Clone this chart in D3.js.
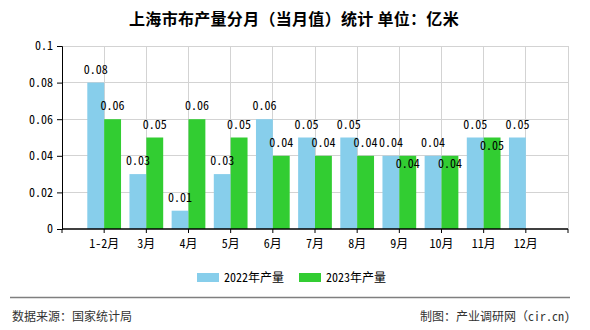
<!DOCTYPE html>
<html><head><meta charset="utf-8">
<script src="https://cdn.jsdelivr.net/npm/d3@7"></script>
<style>
html,body{margin:0;padding:0;background:#fff;}
svg{display:block;}
</style></head>
<body>
<script>
const title = "上海市布产量分月（当月值）统计 单位：亿米";
const categories = ["1-2月","3月","4月","5月","6月","7月","8月","9月","10月","11月","12月"];
const series2022 = [0.08,0.03,0.01,0.03,0.06,0.05,0.05,0.04,0.04,0.05,0.05];
const series2023 = [0.06,0.05,0.06,0.05,0.04,0.04,0.04,0.04,0.04,0.05,null];
const seriesNames = ["2022年产量","2023年产量"];
const yTicks = [0,0.02,0.04,0.06,0.08,0.1];
const yTickLabels = ["0","0.02","0.04","0.06","0.08","0.1"];
const sourceText = "数据来源：国家统计局";
const creditText = "制图：产业调研网（cir.cn)";

(function(){
const W = 590, H = 330;
const colors = ["#87CEEB","#32CD32"];
const monoFont = "'Noto Sans Mono CJK SC','DejaVu Sans Mono','Noto Sans CJK SC',monospace";
const sansFont = "'Noto Sans CJK SC','Noto Sans',sans-serif";

const svg = d3.select("body").append("svg").attr("width",W).attr("height",H);

const pl = 62, pr = 568, pt = 46, pb = 229;
const x = d3.scalePoint().domain(categories).range([pl,pr]).padding(1);
const y = d3.scaleLinear().domain([0,0.1]).range([pb,pt]);
const step = x.step();
const bw = step*0.4;

// title
svg.append("text").attr("x",294).attr("y",25).attr("text-anchor","middle")
  .style("font-family",sansFont).style("font-size","16px").style("font-weight","bold")
  .style("letter-spacing","0.3px")
  .attr("fill","#000").text(title);

// grid
const g = svg.append("g");
const vx = [pl, ...categories.map(c=>x(c)), pr];
g.selectAll("line.vg").data(vx).enter().append("line")
  .attr("x1",d=>d).attr("x2",d=>d).attr("y1",pt).attr("y2",pb)
  .attr("stroke","#d3d3d3").attr("stroke-width",1).attr("shape-rendering","crispEdges");
g.selectAll("line.hg").data(yTicks.filter(t=>t>0)).enter().append("line")
  .attr("x1",pl).attr("x2",pr).attr("y1",d=>y(d)).attr("y2",d=>y(d))
  .attr("stroke","#d3d3d3").attr("stroke-width",1).attr("shape-rendering","crispEdges");

// bars
const bars = svg.append("g");
categories.forEach((c,i)=>{
  const v1 = series2022[i], v2 = series2023[i];
  if (v1!=null) bars.append("rect").attr("x",x(c)-bw).attr("y",y(v1)).attr("width",bw).attr("height",y(0)-y(v1)).attr("fill",colors[0]);
  if (v2!=null) bars.append("rect").attr("x",x(c)).attr("y",y(v2)).attr("width",bw).attr("height",y(0)-y(v2)).attr("fill",colors[1]);
});

// axes
const yAxis = d3.axisLeft(y).tickValues(yTicks).tickFormat((d,i)=>yTickLabels[i]).tickSize(5).tickPadding(4);
const ya = svg.append("g").attr("transform",`translate(${pl},0)`).call(yAxis);
ya.select(".domain").attr("stroke","#000");
ya.selectAll(".tick line").attr("stroke","#000");
ya.selectAll("text").style("font-family",monoFont).style("font-size","12px").attr("fill","#000");

const xa = svg.append("g").attr("transform",`translate(0,${pb})`);
xa.append("line").attr("x1",pl).attr("x2",pr).attr("y1",0).attr("y2",0).attr("stroke","#000").attr("stroke-width",1.5);
xa.selectAll("line.t").data(vx).enter().append("line")
  .attr("x1",d=>d).attr("x2",d=>d).attr("y1",0).attr("y2",4).attr("stroke","#000");
xa.selectAll("text").data(categories).enter().append("text")
  .attr("x",d=>x(d)).attr("y",19).attr("text-anchor","middle")
  .style("font-family",monoFont).style("font-size","12px").attr("fill","#000").text(d=>d);

// data labels
const lab = svg.append("g").style("font-family",monoFont).style("font-size","12px").attr("fill","#000").attr("text-anchor","middle");
categories.forEach((c,i)=>{
  const v1 = series2022[i], v2 = series2023[i];
  if (v1!=null) lab.append("text").attr("x",x(c)-bw/2).attr("y",y(v1)-9).text(String(v1));
  if (v2!=null) {
    const collide = v1!=null && Math.abs(v1-v2)<0.005;
    lab.append("text").attr("x",x(c)+bw/2).attr("y",collide ? y(v2)+12 : y(v2)-9).text(String(v2));
  }
});

// legend
const lg = svg.append("g");
const lx = [197, 299];
seriesNames.forEach((n,i)=>{
  lg.append("rect").attr("x",lx[i]).attr("y",273).attr("width",22).attr("height",9).attr("fill",colors[i]);
  lg.append("text").attr("x",lx[i]+27).attr("y",282).style("font-family",monoFont).style("font-size","12px").attr("fill","#000").text(n);
});

// footer
svg.append("line").attr("x1",10).attr("x2",570).attr("y1",297.5).attr("y2",297.5).attr("stroke","#7f7f7f").attr("stroke-width",1.5);
svg.append("text").attr("x",12).attr("y",321).style("font-family",sansFont).style("font-size","12px").attr("fill","#333").text(sourceText);
svg.append("text").attr("x",570).attr("y",321).attr("text-anchor","end").style("font-family",monoFont).style("font-size","12px").attr("fill","#333").text(creditText);
})();
</script>
</body></html>
